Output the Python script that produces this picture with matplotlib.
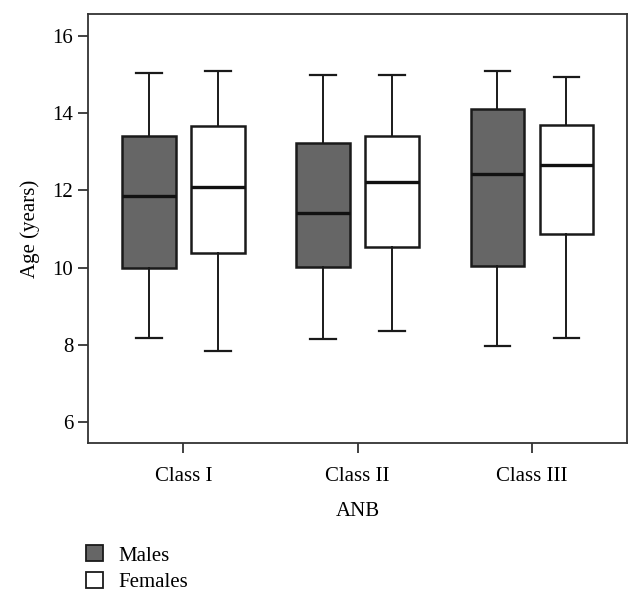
import matplotlib.pyplot as plt
from matplotlib.patches import Patch

plt.rcParams['font.family'] = ['Liberation Serif', 'DejaVu Serif']

classes = ['Class I', 'Class II', 'Class III']
groups = ['Males', 'Females']

# whisker low, Q1, median, Q3, whisker high
males_low = [8.18, 8.16, 7.97]
males_q1 = [10.0, 10.02, 10.04]
males_med = [11.86, 11.40, 12.43]
males_q3 = [13.40, 13.23, 14.11]
males_high = [15.03, 14.98, 15.09]

females_low = [7.84, 8.35, 8.19]
females_q1 = [10.38, 10.53, 10.86]
females_med = [12.09, 12.22, 12.65]
females_q3 = [13.67, 13.39, 13.68]
females_high = [15.09, 14.98, 14.92]

fill_colors = {'Males': '#666666', 'Females': '#ffffff'}
edge = '#1a1a1a'


def make_stats(low, q1, med, q3, high):
    return [dict(whislo=a, q1=b, med=c, q3=d, whishi=e, fliers=[])
            for a, b, c, d, e in zip(low, q1, med, q3, high)]


stats = {
    'Males': make_stats(males_low, males_q1, males_med, males_q3, males_high),
    'Females': make_stats(females_low, females_q1, females_med, females_q3, females_high),
}

fig = plt.figure(figsize=(6.42, 6.02), dpi=100)
ax = fig.add_axes([0.137, 0.264, 0.840, 0.713])

offset = 0.198
centers = list(range(1, len(classes) + 1))
for g, sign in zip(groups, [-1, 1]):
    ax.bxp(stats[g], positions=[c + sign * offset for c in centers],
           widths=0.307, showfliers=False, patch_artist=True, manage_ticks=False,
           boxprops=dict(facecolor=fill_colors[g], edgecolor=edge, linewidth=1.8),
           medianprops=dict(color='#111111', linewidth=2.4),
           whiskerprops=dict(color=edge, linewidth=1.4),
           capprops=dict(color=edge, linewidth=1.6),
           capwidths=0.147)

ax.set_xlim(0.453, 3.547)
ax.set_ylim(5.46, 16.56)
ax.set_xticks(centers)
ax.set_xticklabels(classes)
ax.set_yticks([6, 8, 10, 12, 14, 16])
ax.tick_params(axis='both', labelsize=15, length=7, width=1.3, color='#333333')
ax.tick_params(axis='x', pad=10)
for s in ax.spines.values():
    s.set_linewidth(1.3)
    s.set_color('#333333')

ax.set_xlabel('ANB', fontsize=15, labelpad=12)
ax.set_ylabel('Age (years)', fontsize=15, labelpad=9)

handles = [Patch(facecolor=fill_colors[g], edgecolor=edge, linewidth=1.3) for g in groups]
fig.legend(handles, groups, loc='upper left', bbox_to_anchor=(0.121, 0.108),
           frameon=False, fontsize=15, handlelength=0.8, handleheight=0.8,
           handletextpad=0.75, labelspacing=0.3, borderaxespad=0)

fig.savefig('out.png', dpi=100)
